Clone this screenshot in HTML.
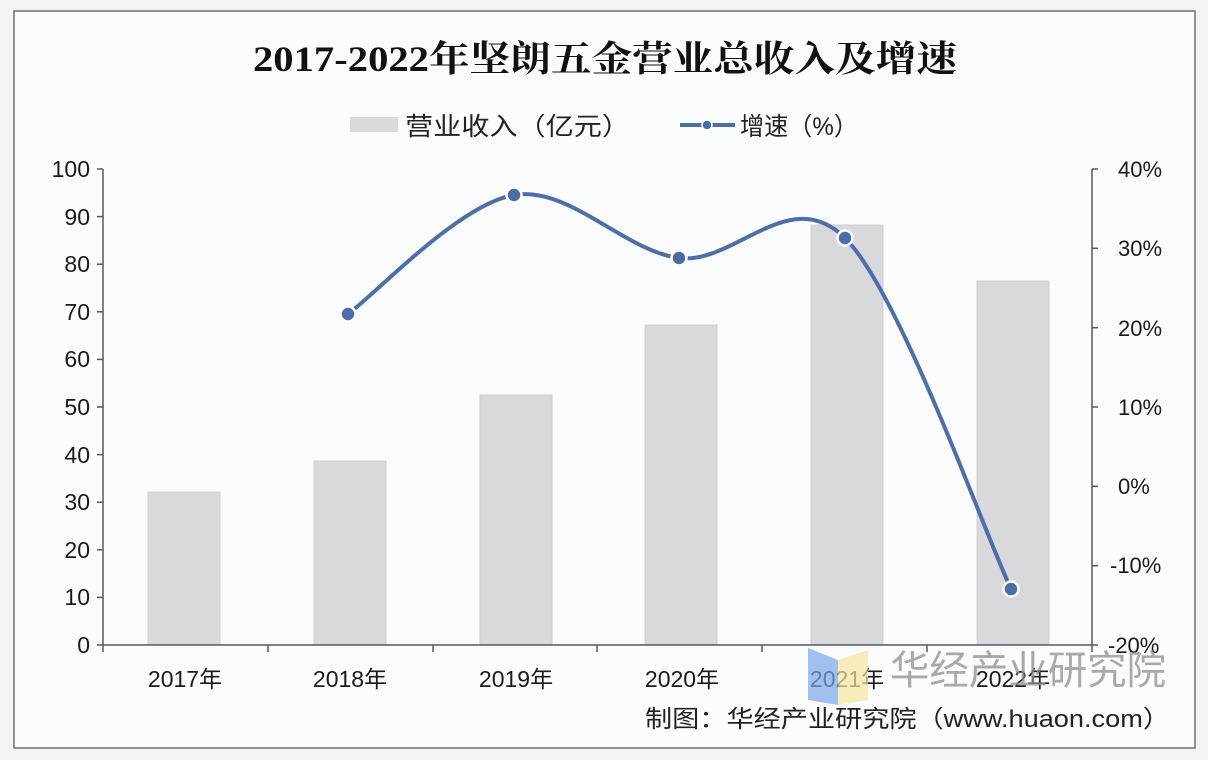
<!DOCTYPE html>
<html>
<head>
<meta charset="utf-8">
<style>
html,body{margin:0;padding:0;background:#f2f2f3;}
svg{display:block;}
</style>
</head>
<body>
<svg width="1208" height="760" viewBox="0 0 1208 760" xmlns="http://www.w3.org/2000/svg">
  <rect x="0" y="0" width="1208" height="760" fill="#f3f3f4"/>
  <rect x="14" y="11" width="1181" height="737" fill="#fbfcfe" stroke="#6f6f74" stroke-width="1.5"/>

  <!-- Title -->
  <text x="605" y="71" text-anchor="middle" font-family="'Liberation Serif','Noto Serif CJK SC',serif" font-weight="bold" font-size="36" fill="#111" textLength="704" lengthAdjust="spacingAndGlyphs">2017-2022年坚朗五金营业总收入及增速</text>

  <!-- Legend -->
  <rect x="350" y="117" width="48" height="15" fill="#d9dadd"/>
  <text x="405" y="135" font-family="'Liberation Sans','Noto Sans CJK SC',sans-serif" font-size="25" fill="#222" textLength="225" lengthAdjust="spacingAndGlyphs">营业收入（亿元）</text>
  <line x1="680" y1="125" x2="735" y2="125" stroke="#4f6ea8" stroke-width="4"/>
  <circle cx="707" cy="125" r="5" fill="#4d6ca6" stroke="#fff" stroke-width="1.5"/>
  <text x="740" y="135" font-family="'Liberation Sans','Noto Sans CJK SC',sans-serif" font-size="25" fill="#222" textLength="118" lengthAdjust="spacingAndGlyphs">增速（%）</text>

  <!-- Bars -->
  <g fill="#d8d9dc" stroke="#cfd0d4" stroke-width="1">
    <rect x="148" y="492" width="72" height="153"/>
    <rect x="314" y="461" width="72" height="184"/>
    <rect x="480" y="395" width="72" height="250"/>
    <rect x="645" y="325" width="72" height="320"/>
    <rect x="811" y="225" width="72" height="420"/>
    <rect x="977" y="281" width="72" height="364"/>
  </g>

  <!-- Axes -->
  <g stroke="#5b5563" stroke-width="1.5" fill="none">
    <line x1="103" y1="169" x2="103" y2="645"/>
    <line x1="103" y1="645" x2="1092" y2="645"/>
    <line x1="1092" y1="169" x2="1092" y2="645"/>
    <!-- left ticks -->
    <line x1="97" y1="169" x2="103" y2="169"/>
    <line x1="97" y1="216.6" x2="103" y2="216.6"/>
    <line x1="97" y1="264.2" x2="103" y2="264.2"/>
    <line x1="97" y1="311.8" x2="103" y2="311.8"/>
    <line x1="97" y1="359.4" x2="103" y2="359.4"/>
    <line x1="97" y1="407" x2="103" y2="407"/>
    <line x1="97" y1="454.6" x2="103" y2="454.6"/>
    <line x1="97" y1="502.2" x2="103" y2="502.2"/>
    <line x1="97" y1="549.8" x2="103" y2="549.8"/>
    <line x1="97" y1="597.4" x2="103" y2="597.4"/>
    <line x1="97" y1="645" x2="103" y2="645"/>
    <!-- right ticks -->
    <line x1="1092" y1="169" x2="1098" y2="169"/>
    <line x1="1092" y1="248.3" x2="1098" y2="248.3"/>
    <line x1="1092" y1="327.7" x2="1098" y2="327.7"/>
    <line x1="1092" y1="407" x2="1098" y2="407"/>
    <line x1="1092" y1="486.3" x2="1098" y2="486.3"/>
    <line x1="1092" y1="565.7" x2="1098" y2="565.7"/>
    <line x1="1092" y1="645" x2="1098" y2="645"/>
    <!-- x ticks -->
    <line x1="103" y1="645" x2="103" y2="652"/>
    <line x1="268" y1="645" x2="268" y2="652"/>
    <line x1="433" y1="645" x2="433" y2="652"/>
    <line x1="597" y1="645" x2="597" y2="652"/>
    <line x1="762" y1="645" x2="762" y2="652"/>
    <line x1="927" y1="645" x2="927" y2="652"/>
    <line x1="1092" y1="645" x2="1092" y2="652"/>
  </g>

  <!-- Left labels -->
  <g font-family="'Liberation Sans',sans-serif" font-size="23" fill="#1a1a1a" text-anchor="end">
    <text x="90" y="177">100</text>
    <text x="90" y="225">90</text>
    <text x="90" y="272">80</text>
    <text x="90" y="320">70</text>
    <text x="90" y="367">60</text>
    <text x="90" y="415">50</text>
    <text x="90" y="463">40</text>
    <text x="90" y="510">30</text>
    <text x="90" y="558">20</text>
    <text x="90" y="605">10</text>
    <text x="90" y="653">0</text>
  </g>

  <!-- Right labels -->
  <g font-family="'Liberation Sans',sans-serif" font-size="22" fill="#1a1a1a">
    <text x="1118" y="177">40%</text>
    <text x="1118" y="256">30%</text>
    <text x="1118" y="336">20%</text>
    <text x="1118" y="415">10%</text>
    <text x="1118" y="494">0%</text>
    <text x="1110" y="573">-10%</text>
    <text x="1108" y="653">-20%</text>
  </g>

  <!-- X labels -->
  <g font-family="'Liberation Sans','Noto Sans CJK SC',sans-serif" font-size="23" fill="#1a1a1a" text-anchor="middle">
    <text x="185" y="687">2017年</text>
    <text x="350" y="687">2018年</text>
    <text x="516" y="687">2019年</text>
    <text x="682" y="687">2020年</text>
    <text x="847" y="687">2021年</text>
    <text x="1013" y="687">2022年</text>
  </g>

  <!-- Line -->
  <path d="M348,314 C375.7,294.2 458.8,204.3 514,195 C569.2,185.7 623.8,250.8 679,258 C734.2,265.2 789.7,182.8 845,238 C900.3,293.2 983.3,530.5 1011,589" fill="none" stroke="#4f6ea8" stroke-width="4"/>
  <g fill="#4d6ca6" stroke="#ffffff" stroke-width="2.5">
    <circle cx="348" cy="314" r="7.5"/>
    <circle cx="514" cy="195" r="7.5"/>
    <circle cx="679" cy="258" r="7.5"/>
    <circle cx="845" cy="238" r="7.5"/>
    <circle cx="1011" cy="589" r="7.5"/>
  </g>

  <!-- Watermark logo -->
  <polygon points="808,648 838,660 838,705 808,700" fill="#7aa6e8" opacity="0.7"/>
  <polygon points="838,660 868,650 868,700 838,705" fill="#f6e6a0" opacity="0.7"/>
  <text x="890" y="684" font-family="'Noto Sans CJK SC','WenQuanYi Zen Hei',sans-serif" font-size="40" fill="#8e8e8e" opacity="0.75" textLength="276" lengthAdjust="spacingAndGlyphs">华经产业研究院</text>

  <!-- Footer -->
  <text x="645" y="727" font-family="'Liberation Sans','Noto Sans CJK SC',sans-serif" font-size="24" fill="#222" textLength="525" lengthAdjust="spacingAndGlyphs">制图：华经产业研究院（www.huaon.com）</text>
</svg>
</body>
</html>
